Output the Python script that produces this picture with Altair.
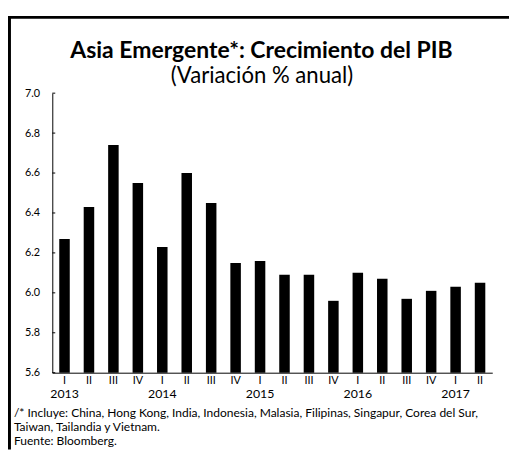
import altair as alt
import pandas as pd

# ---- data ----
years = [2013]*4 + [2014]*4 + [2015]*4 + [2016]*4 + [2017]*2
quarters = ["I", "II", "III", "IV"]*4 + ["I", "II"]
values = [6.27, 6.43, 6.74, 6.55, 6.23, 6.60, 6.45, 6.15,
          6.16, 6.09, 6.09, 5.96, 6.10, 6.07, 5.97, 6.01, 6.03, 6.05]
y_ticks = [5.6, 5.8, 6.0, 6.2, 6.4, 6.6, 6.8, 7.0]

title_text = "Asia Emergente*: Crecimiento del PIB"
subtitle_text = "(Variación % anual)"
notes = [
    "/* Incluye: China, Hong Kong, India, Indonesia, Malasia, Filipinas, Singapur, Corea del Sur,",
    "Taiwan, Tailandia y Vietnam.",
    "Fuente: Bloomberg.",
]

keys = [f"{y}-{q}" for y, q in zip(years, quarters)]
df = pd.DataFrame({"key": keys, "year": years, "q": quarters, "value": values})
one = pd.DataFrame({"a": [0]})
ticks_df = pd.DataFrame({"value": y_ticks})

FONT = "Lato"
W, H = 447, 284

xscale = alt.Scale(domain=keys, paddingInner=0.57, paddingOuter=0.285)
yscale = alt.Scale(domain=[5.6, 7.0], zero=False, nice=False)

xaxis = alt.Axis(labelExpr="split(datum.label, '-')[1]", labelAngle=0,
                 ticks=False, labelPadding=2, labelFontSize=11,
                 labelFont=FONT, labelColor="black", domainColor="black",
                 labelBaseline="top", title=None)
yaxis = alt.Axis(values=y_ticks, format=".1f", ticks=False, grid=False,
                 labelPadding=13, labelFontSize=11, labelFont=FONT,
                 labelColor="black", domainColor="black", title=None)

X = alt.X("key:N", scale=xscale, sort=keys, axis=xaxis)
Y = alt.Y("value:Q", scale=yscale, axis=yaxis)

bars = alt.Chart(df).mark_bar(color="black").encode(
    x=X, y=Y, y2=alt.datum(5.6),
)

ytick_marks = alt.Chart(ticks_df).mark_rule(color="black", strokeWidth=1).encode(
    y=Y, x=alt.value(0), x2=alt.value(3),
)

year_labels = alt.Chart(df).transform_filter(alt.datum.q == "I").mark_text(
    font=FONT, fontSize=12.5, color="black", baseline="alphabetic"
).encode(
    x=X, y=alt.value(310), text="year:N",
)

def txt(text, x, y, size, weight="normal", align="center"):
    return alt.Chart(one).mark_text(
        font=FONT, fontSize=size, fontWeight=weight, color="black",
        align=align, baseline="alphabetic"
    ).encode(x=alt.value(x), y=alt.value(y), text=alt.value(text))

title = txt(title_text, 212.5, -36, 23.3, "bold")
subtitle = txt(subtitle_text, 213, -10, 22.5)
note_layers = [txt(n, -39, 329 + 14*i, 12.2, align="left") for i, n in enumerate(notes)]

left_border = alt.Chart(one).mark_rule(color="black", strokeWidth=3).encode(
    x=alt.value(-43.5), y=alt.value(-78.5), y2=alt.value(362))
top_border = alt.Chart(one).mark_rule(color="black", strokeWidth=3).encode(
    x=alt.value(-45), x2=alt.value(470), y=alt.value(-77))

chart = alt.layer(
    bars, ytick_marks, year_labels, title, subtitle, *note_layers, left_border, top_border
).properties(
    width=W, height=H,
    background="white",
    autosize=alt.AutoSizeParams(type="none"),
    padding={"left": 45, "top": 83, "right": 17, "bottom": 75},
).configure_view(stroke=None, strokeWidth=0)

chart.save("out.html", embed_options={"renderer": "svg", "actions": False})
